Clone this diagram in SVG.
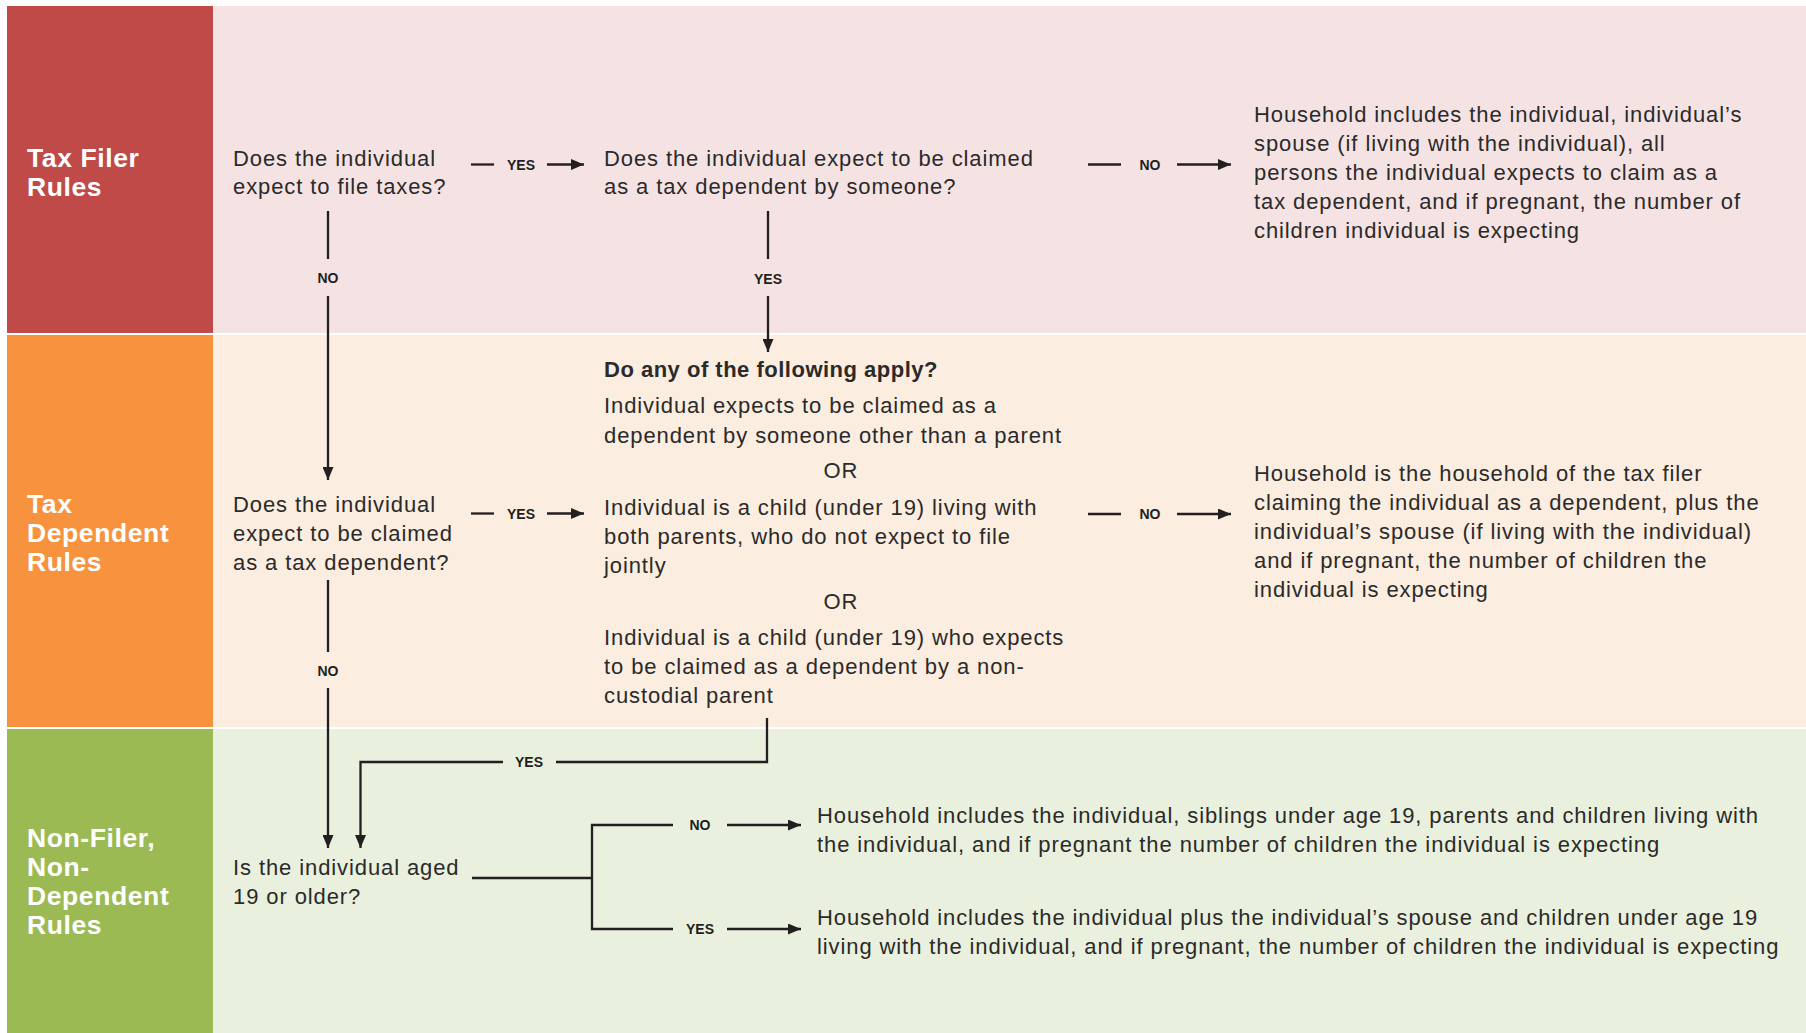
<svg xmlns="http://www.w3.org/2000/svg" width="1806" height="1033" viewBox="0 0 1806 1033">
<defs>
<style>
.lane{font-family:"Liberation Sans",Arial,sans-serif;font-weight:bold;font-size:26.5px;letter-spacing:0.6px;fill:#ffffff}
.t{font-family:"Liberation Sans",Arial,sans-serif;font-size:22px;letter-spacing:0.9px;fill:#2b2a2a}
.hd{font-weight:bold;letter-spacing:0.5px}
.lbl{font-family:"Liberation Sans",Arial,sans-serif;font-weight:bold;font-size:14px;fill:#231f20;text-anchor:middle}
.ln{stroke:#231f20;stroke-width:2.3;fill:none}
</style>
<marker id="ah" markerUnits="userSpaceOnUse" markerWidth="13" markerHeight="11" refX="13" refY="5.5" orient="auto">
<path d="M0,0 L13,5.5 L0,11 z" fill="#231f20"/>
</marker>
</defs>
<rect width="1806" height="1033" fill="#ffffff"/>
<g id="lanes">
<rect x="7" y="6" width="206" height="327" fill="#bf4a48"/>
<rect x="213" y="6" width="1593" height="327" fill="#f5e3e4"/>
<rect x="7" y="335" width="206" height="392" fill="#f7923f"/>
<rect x="213" y="335" width="1593" height="392" fill="#fbeddf"/>
<rect x="7" y="729" width="206" height="304" fill="#9bba54"/>
<rect x="213" y="729" width="1593" height="304" fill="#e9f0dd"/>
<text class="lane" x="27"><tspan x="27" y="167">Tax Filer</tspan><tspan x="27" y="196">Rules</tspan></text>
<text class="lane" x="27"><tspan x="27" y="513">Tax</tspan><tspan x="27" y="542">Dependent</tspan><tspan x="27" y="571">Rules</tspan></text>
<text class="lane" x="27"><tspan x="27" y="847">Non-Filer,</tspan><tspan x="27" y="876">Non-</tspan><tspan x="27" y="905">Dependent</tspan><tspan x="27" y="934">Rules</tspan></text>
</g>
<g id="q1">
<text class="t"><tspan x="233" y="166">Does the individual</tspan><tspan x="233" y="194">expect to file taxes?</tspan></text>
</g>
<g id="q2">
<text class="t"><tspan x="604" y="166">Does the individual expect to be claimed</tspan><tspan x="604" y="194">as a tax dependent by someone?</tspan></text>
</g>
<g id="r1">
<text class="t"><tspan x="1254" y="122">Household includes the individual, individual’s</tspan><tspan x="1254" y="151">spouse (if living with the individual), all</tspan><tspan x="1254" y="180">persons the individual expects to claim as a</tspan><tspan x="1254" y="209">tax dependent, and if pregnant, the number of</tspan><tspan x="1254" y="238">children individual is expecting</tspan></text>
</g>
<g id="q3">
<text class="t"><tspan x="233" y="512">Does the individual</tspan><tspan x="233" y="541">expect to be claimed</tspan><tspan x="233" y="570">as a tax dependent?</tspan></text>
</g>
<g id="list">
<text class="t hd" x="604" y="377">Do any of the following apply?</text>
<text class="t"><tspan x="604" y="413">Individual expects to be claimed as a</tspan><tspan x="604" y="443">dependent by someone other than a parent</tspan></text>
<text class="t" x="841" y="478" text-anchor="middle">OR</text>
<text class="t"><tspan x="604" y="515">Individual is a child (under 19) living with</tspan><tspan x="604" y="544">both parents, who do not expect to file</tspan><tspan x="604" y="573">jointly</tspan></text>
<text class="t" x="841" y="609" text-anchor="middle">OR</text>
<text class="t"><tspan x="604" y="645">Individual is a child (under 19) who expects</tspan><tspan x="604" y="674">to be claimed as a dependent by a non-</tspan><tspan x="604" y="703">custodial parent</tspan></text>
</g>
<g id="r2">
<text class="t"><tspan x="1254" y="481">Household is the household of the tax filer</tspan><tspan x="1254" y="510">claiming the individual as a dependent, plus the</tspan><tspan x="1254" y="539">individual’s spouse (if living with the individual)</tspan><tspan x="1254" y="568">and if pregnant, the number of children the</tspan><tspan x="1254" y="597">individual is expecting</tspan></text>
</g>
<g id="q4">
<text class="t"><tspan x="233" y="875">Is the individual aged</tspan><tspan x="233" y="904">19 or older?</tspan></text>
</g>
<g id="r3">
<text class="t"><tspan x="817" y="823">Household includes the individual, siblings under age 19, parents and children living with</tspan><tspan x="817" y="852">the individual, and if pregnant the number of children the individual is expecting</tspan></text>
</g>
<g id="r4">
<text class="t"><tspan x="817" y="925">Household includes the individual plus the individual’s spouse and children under age 19</tspan><tspan x="817" y="954">living with the individual, and if pregnant, the number of children the individual is expecting</tspan></text>
</g>
<g id="connectors">
<path class="ln" d="M471,164.5 H494"/>
<text class="lbl" x="521" y="170">YES</text>
<path class="ln" d="M547,164.5 H584" marker-end="url(#ah)"/>
<path class="ln" d="M1088,164.5 H1121"/>
<text class="lbl" x="1150" y="170">NO</text>
<path class="ln" d="M1177,164.5 H1231" marker-end="url(#ah)"/>
<path class="ln" d="M328,211 V259"/>
<text class="lbl" x="328" y="283">NO</text>
<path class="ln" d="M328,296 V480" marker-end="url(#ah)"/>
<path class="ln" d="M768,211 V259"/>
<text class="lbl" x="768" y="284">YES</text>
<path class="ln" d="M768,296 V352" marker-end="url(#ah)"/>
<path class="ln" d="M471,513.5 H494"/>
<text class="lbl" x="521" y="519">YES</text>
<path class="ln" d="M547,513.5 H584" marker-end="url(#ah)"/>
<path class="ln" d="M1088,514 H1121"/>
<text class="lbl" x="1150" y="519">NO</text>
<path class="ln" d="M1177,514 H1231" marker-end="url(#ah)"/>
<path class="ln" d="M328,580 V652"/>
<text class="lbl" x="328" y="676">NO</text>
<path class="ln" d="M328,688 V848" marker-end="url(#ah)"/>
<path class="ln" d="M767,718 V762 H556"/>
<text class="lbl" x="529" y="767">YES</text>
<path class="ln" d="M503,762 H360.5 V848" marker-end="url(#ah)"/>
<path class="ln" d="M472,878 H592"/>
<path class="ln" d="M673,825 H592 V929 H673"/>
<text class="lbl" x="700" y="830">NO</text>
<path class="ln" d="M727,825 H801" marker-end="url(#ah)"/>
<text class="lbl" x="700" y="934">YES</text>
<path class="ln" d="M727,929 H801" marker-end="url(#ah)"/>
</g>
</svg>
